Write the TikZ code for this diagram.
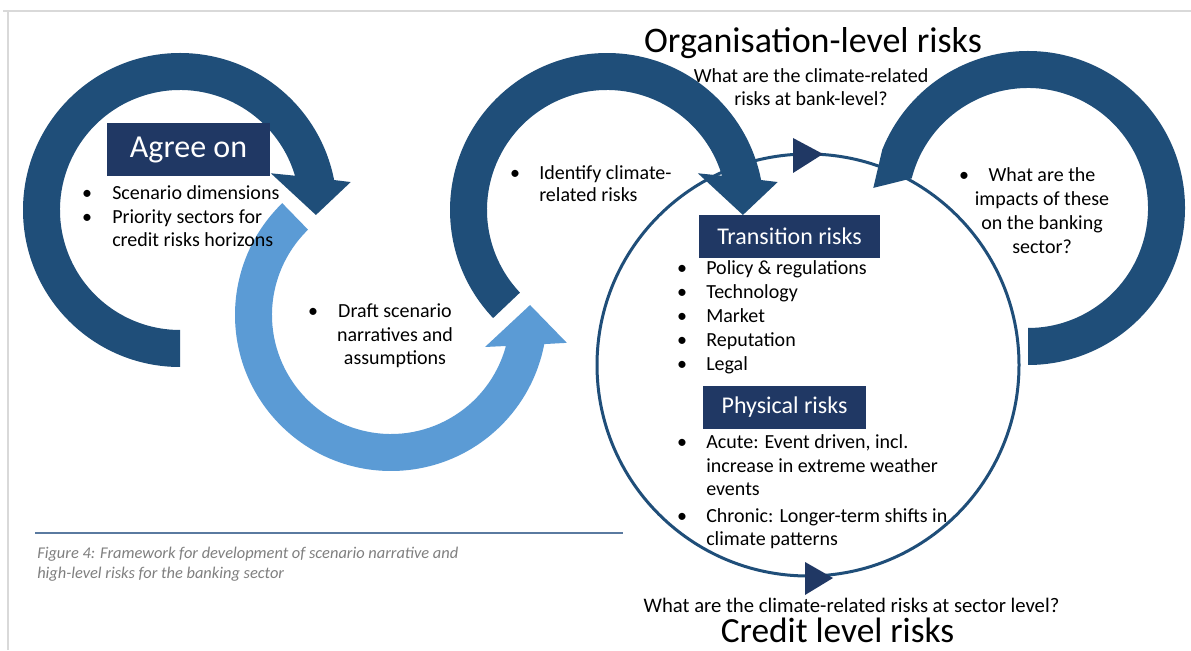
\documentclass[tikz,border=0pt]{standalone}
\usepackage{fontspec}
\setmainfont{Carlito}
\definecolor{darkarrow}{HTML}{1F4E79}
\definecolor{lightarrow}{HTML}{5B9BD5}
\definecolor{navybox}{HTML}{203864}
\definecolor{capgray}{HTML}{7F7F7F}
\definecolor{caplinecol}{HTML}{5A7AA0}
\definecolor{framegray}{HTML}{D9D9D9}
\begin{document}
\begin{tikzpicture}[x=0.75pt,y=0.75pt,
  body/.style={inner sep=0pt, font=\fontsize{15}{18}\selectfont, text=black},
  bul/.style={body, anchor=base},
  ln/.style={body, anchor=base west},
  cln/.style={body, anchor=base},
  bigtitle/.style={inner sep=0pt, anchor=base, font=\fontsize{27}{32}\selectfont, text=black},
  navy/.style={fill=navybox, text=white, inner sep=0pt},
  caption/.style={inner sep=0pt, anchor=base west, font=\fontsize{12.3}{14}\selectfont\itshape, text=capgray},
  ringdark/.style={fill=darkarrow},
  ringlight/.style={fill=lightarrow},
  framelinestyle/.style={draw=framegray, line width=1.1pt}
]
\useasboundingbox (0,0) rectangle (1191,650);
\fill[white] (0,0) rectangle (1191,650);

% frame
\coordinate (ftl) at (3,639);
\coordinate (ftr) at (1191,639);
\coordinate (fvl) at (8,639);
\coordinate (fvb) at (8,0);
\draw[framelinestyle] (ftl) -- (ftr);
\draw[framelinestyle] (fvl) -- (fvb);

% big thin circle
\coordinate (cc) at (808,285);
\draw[darkarrow, line width=2.25pt] (cc) circle[radius=211];
\fill[navybox] (793,512) -- (823,496) -- (793,477) -- cycle;
\fill[navybox] (805,88) -- (833,72) -- (805,55) -- cycle;

% arrow 1 (top left, dark)
\fill[ringdark, shift={(180,440)}] (270:157) arc[start angle=270, end angle=11, radius=157]
  -- (9.3:173) -- (-2.1:136) -- (22:98) -- (16.6:120)
  arc[start angle=16.6, end angle=270, radius=120] -- cycle;

% arrow 2 (light)
\fill[ringlight, shift={(391,335)}] (134.2:156) arc[start angle=134.2, end angle=349.25, radius=156]
  -- (351:178) -- (364.1:139.4) -- (341.2:99.3) -- (344.9:119)
  arc[start angle=344.9, end angle=134.2, radius=119] -- cycle;

% arrow 3 (middle, dark)
\fill[ringdark, shift={(607,440)}] (223.5:157) arc[start angle=223.5, end angle=11, radius=157]
  -- (9.3:173) -- (-2.1:136) -- (22:98) -- (16.6:120)
  arc[start angle=16.6, end angle=223.5, radius=120] -- cycle;

% arrow 4 (right, dark)
\fill[ringdark, shift={(1028,442)}] (-90:157) arc[start angle=-90, end angle=158.2, radius=157]
  -- (172.6:156) -- (165.7:120)
  arc[start angle=165.7, end angle=-90, radius=120] -- cycle;

% boxes
\node[navy, minimum width=122.25pt, minimum height=39.75pt, font=\fontsize{24}{28}\selectfont] (agree) at (188.5,500.5) {Agree on};
\node[navy, minimum width=135.75pt, minimum height=32.25pt, font=\fontsize{18}{22}\selectfont] (trans) at (789.5,413.5) {Transition risks};
\node[navy, minimum width=122.25pt, minimum height=32.25pt, font=\fontsize{18}{22}\selectfont] (phys) at (784.5,242.5) {Physical risks};

% agree list
\node[bul] (ab1) at (87,450) {•};
\node[ln] (at1) at (112,450) {Scenario dimensions};
\node[bul] (ab2) at (87,426) {•};
\node[ln] (at2) at (112,426) {Priority sectors for};
\node[ln] (at3) at (112,403) {credit risks horizons};

% draft
\node[bul] (db1) at (313,332) {•};
\node[cln] (dt1) at (395,332) {Draft scenario};
\node[cln] (dt2) at (395,308) {narratives and};
\node[cln] (dt3) at (395,285) {assumptions};

% identify
\node[bul] (ib1) at (515,470) {•};
\node[ln] (it1) at (539,470) {Identify climate-};
\node[ln] (it2) at (539,448) {related risks};

% organisation
\node[bigtitle] (org) at (813,597) {Organisation-level risks};
\node[cln] (oq1) at (811,567) {What are the climate-related};
\node[cln] (oq2) at (811,544) {risks at bank-level?};

% right question
\node[bul] (rb1) at (964,468) {•};
\node[cln] (rt1) at (1042,468) {What are the};
\node[cln] (rt2) at (1042,444) {impacts of these};
\node[cln] (rt3) at (1042,420) {on the banking};
\node[cln] (rt4) at (1042,396) {sector?};

% transition list
\node[bul] (tb1) at (682,375) {•};
\node[ln] (tt1) at (706,375) {Policy \& regulations};
\node[bul] (tb2) at (682,351) {•};
\node[ln] (tt2) at (706,351) {Technology};
\node[bul] (tb3) at (682,327) {•};
\node[ln] (tt3) at (706,327) {Market};
\node[bul] (tb4) at (682,303) {•};
\node[ln] (tt4) at (706,303) {Reputation};
\node[bul] (tb5) at (682,279) {•};
\node[ln] (tt5) at (706,279) {Legal};

% physical list
\node[bul] (pb1) at (682,202) {•};
\node[ln] (pt1) at (706,202) {Acute: Event driven, incl.};
\node[ln] (pt2) at (706,178) {increase in extreme weather};
\node[ln] (pt3) at (706,155) {events};
\node[bul] (pb2) at (682,128) {•};
\node[ln] (pt4) at (706,128) {Chronic: Longer-term shifts in};
\node[ln] (pt5) at (706,105) {climate patterns};

% sector
\node[cln, font=\fontsize{15.5}{18}\selectfont] (sq) at (851.5,38) {What are the climate-related risks at sector level?};
\node[bigtitle, font=\fontsize{26.5}{32}\selectfont] (credit) at (837.5,8) {Credit level risks};

% caption
\coordinate (cl1) at (35,117);
\coordinate (cl2) at (623,117);
\draw[caplinecol, line width=1.1pt] (cl1) -- (cl2);
\node[caption] (cap1) at (37,92) {Figure 4: Framework for development of scenario narrative and};
\node[caption] (cap2) at (37,72) {high-level risks for the banking sector};
\end{tikzpicture}
\end{document}
